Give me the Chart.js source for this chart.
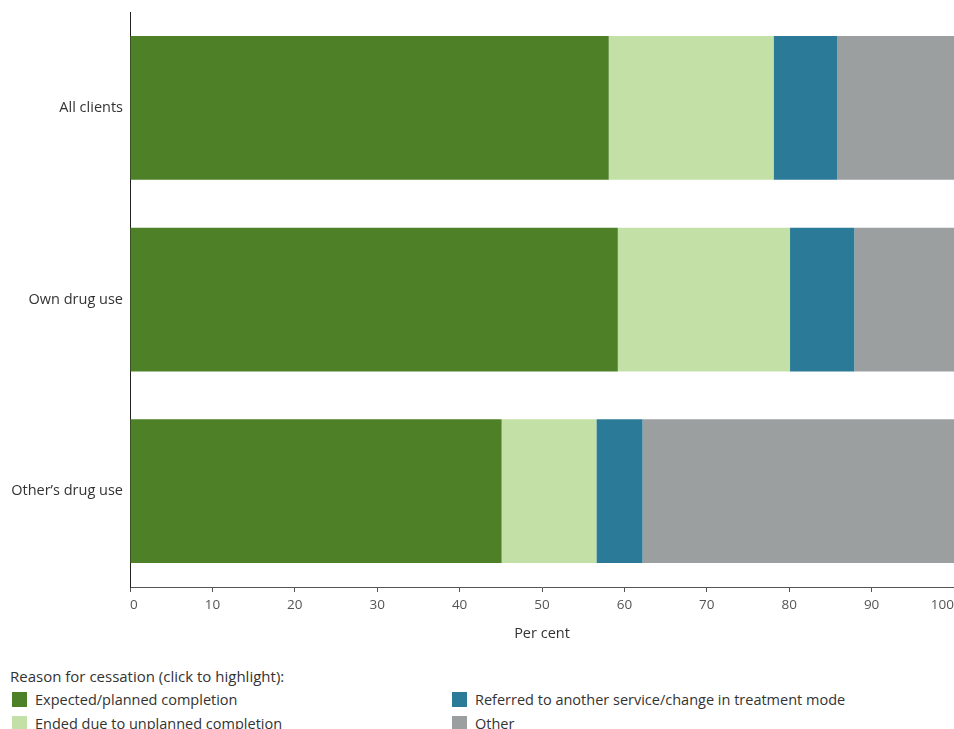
<!DOCTYPE html>
<html>
<head>
<meta charset="utf-8">
<script src="https://cdn.jsdelivr.net/npm/chart.js@4.4.1/dist/chart.umd.min.js"></script>
<style>
    html, body {
        margin: 0;
        padding: 0;
        background: #ffffff;
        overflow: hidden;
        font-family: "Open Sans", sans-serif;
    }
    #wrap {
        position: relative;
        width: 954px;
        height: 729px;
    }
    #chart-box {
        position: absolute;
        left: 0;
        top: 0;
        width: 954px;
        height: 648px;
    }
    #legend {
        position: absolute;
        left: 10px;
        top: 665px;
        width: 940px;
        color: #333333;
        font-size: 14.5px;
    }
    #legend .titulo {
        height: 22px;
        line-height: 22px;
        font-size: 15px;
    }
    #legend .items {
        display: grid;
        grid-template-columns: 440px 440px;
        grid-auto-rows: 24px;
    }
    #legend .item {
        display: flex;
        align-items: center;
        cursor: pointer;
        height: 24px;
    }
    #legend .swatch {
        width: 15px;
        height: 15px;
        margin-left: 2px;
        margin-right: 8px;
    }
</style>
</head>
<body>
<div id="wrap">
    <div id="chart-box"><canvas id="chart-cessation"></canvas></div>
    <div id="legend">
        <div class="titulo">Reason for cessation (click to highlight):</div>
        <div class="items" id="legend-items"></div>
    </div>
</div>
<script>
// Datos (por ciento de episodios cerrados)
const categories = ['All clients', 'Own drug use', 'Other\u2019s drug use'];
const expectedPlanned = [58.1, 59.2, 45.1];
const unplannedCompletion = [20.0, 20.9, 11.5];
const referredOther = [7.7, 7.8, 5.6];
const otherReason = [14.2, 12.1, 37.8];

const seriesLabels = [
    'Expected/planned completion',
    'Ended due to unplanned completion',
    'Referred to another service/change in treatment mode',
    'Other'
];
const seriesColors = ['#4e8027', '#c3e1a6', '#2b7a98', '#9c9fa0'];
const seriesData = [expectedPlanned, unplannedCompletion, referredOther, otherReason];

const fontFamily = '"Open Sans", sans-serif';

const ctx = document.getElementById('chart-cessation').getContext('2d');

const chartCessation = new Chart(ctx, {
    type: 'bar',
    data: {
        labels: categories,
        datasets: seriesData.map((values, i) => ({
            label: seriesLabels[i],
            data: values,
            backgroundColor: seriesColors[i],
            borderWidth: 0,
            categoryPercentage: 1,
            barPercentage: 0.75
        }))
    },
    options: {
        indexAxis: 'y',
        responsive: true,
        maintainAspectRatio: false,
        animation: false,
        layout: {
            padding: { top: 12, left: 0, right: 0, bottom: 0 }
        },
        plugins: {
            legend: { display: false },
            tooltip: { enabled: true }
        },
        scales: {
            x: {
                stacked: true,
                min: 0,
                max: 100,
                ticks: {
                    stepSize: 10,
                    align: 'inner',
                    padding: 5,
                    color: '#555555',
                    font: { family: fontFamily, size: 13.5 }
                },
                grid: {
                    display: true,
                    drawOnChartArea: false,
                    drawTicks: true,
                    tickLength: 5,
                    color: '#555555'
                },
                border: { display: true, color: '#555555', width: 1 },
                title: {
                    display: true,
                    text: 'Per cent',
                    color: '#333333',
                    font: { family: fontFamily, size: 14.5 },
                    padding: { top: 6, bottom: 5 }
                },
                afterFit: function (scale) {
                    scale.height = 61;
                    scale.paddingLeft = 0;
                    scale.paddingRight = 0;
                }
            },
            y: {
                stacked: true,
                ticks: {
                    padding: 7,
                    color: '#333333',
                    font: { family: fontFamily, size: 14.5 }
                },
                grid: { display: false, drawTicks: false },
                border: { display: true, color: '#222222', width: 1 },
                afterFit: function (scale) {
                    scale.width = 130;
                    scale.paddingTop = 0;
                    scale.paddingBottom = 0;
                }
            }
        }
    }
});

// Leyenda en HTML (clic para resaltar)
const legendItems = document.getElementById('legend-items');
let resaltado = null;
const ordenLeyenda = [0, 2, 1, 3];
ordenLeyenda.forEach(i => {
    const item = document.createElement('div');
    item.className = 'item';
    item.innerHTML = `<span class="swatch" style="background:${seriesColors[i]}"></span><span>${seriesLabels[i]}</span>`;
    item.onclick = function () {
        resaltado = resaltado === i ? null : i;
        chartCessation.data.datasets.forEach((ds, j) => {
            ds.backgroundColor = (resaltado === null || resaltado === j)
                ? seriesColors[j]
                : seriesColors[j] + '55';
        });
        chartCessation.update();
    };
    legendItems.appendChild(item);
});
</script>
</body>
</html>
